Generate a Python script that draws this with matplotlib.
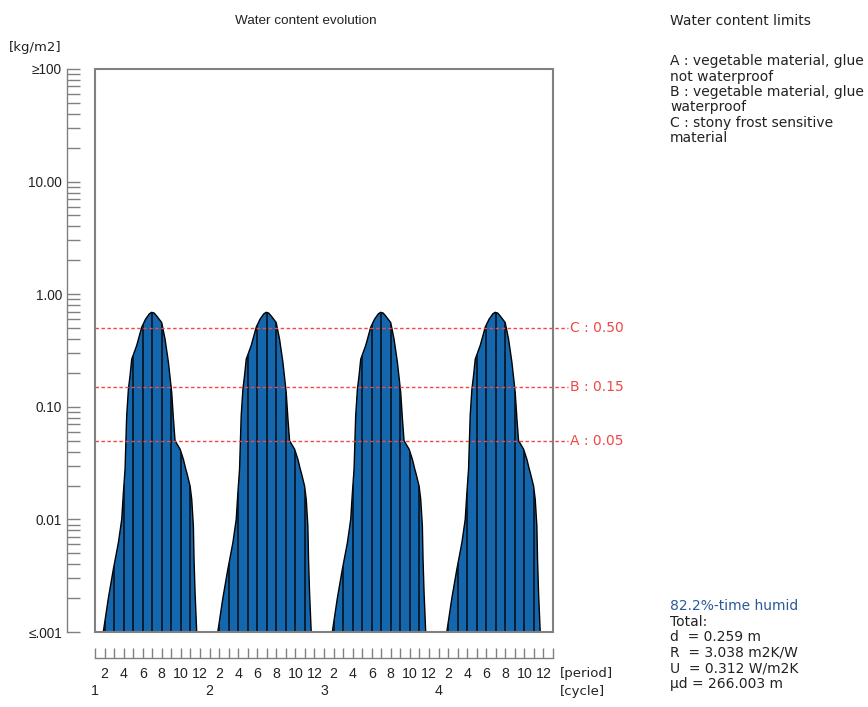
import numpy as np
import matplotlib
matplotlib.use("Agg")
import matplotlib.pyplot as plt
from matplotlib.patches import Polygon, Rectangle
from matplotlib.ticker import LogLocator, NullFormatter, FixedLocator

plt.rcParams['font.family'] = ['Liberation Sans', 'DejaVu Sans']
plt.rcParams['font.size'] = 9

n_cycles = 4
periods_per_cycle = 12

# Water content over one yearly cycle: position (in periods from cycle start) and value [kg/m2]
cycle_pos = [0.87, 1.40, 1.92, 2.45, 2.80, 2.97, 3.15, 3.32, 3.50, 3.67, 3.85, 4.37,
             4.90, 5.30, 5.70, 5.94, 6.20, 6.47, 6.99, 7.34, 7.69, 8.04, 8.22, 8.39,
             8.92, 9.27, 9.51, 9.62, 9.97, 10.14, 10.31, 10.38, 10.49, 10.66]
cycle_wc = [0.001, 0.0020, 0.0036, 0.0062, 0.010, 0.017, 0.028, 0.083, 0.143, 0.188, 0.265, 0.35,
            0.51, 0.60, 0.67, 0.69, 0.68, 0.64, 0.56, 0.40, 0.25, 0.134, 0.078, 0.050,
            0.042, 0.034, 0.028, 0.026, 0.0197, 0.015, 0.0087, 0.0044, 0.0022, 0.001]

limit_names = ["A", "B", "C"]
limit_values = [0.05, 0.15, 0.50]

ytick_values = [0.001, 0.01, 0.1, 1, 10, 100]
ytick_labels = ["≤.001", "0.01", "0.10", "1.00", "10.00", "≥100"]

period_numbers = [2, 4, 6, 8, 10, 12]
cycle_labels = ["1", "2", "3", "4"]

limits_text = ["A : vegetable material, glue", "not waterproof",
               "B : vegetable material, glue", "waterproof",
               "C : stony frost sensitive", "material"]
summary_text = ["Total:", "d  = 0.259 m", "R  = 3.038 m2K/W",
                "U  = 0.312 W/m2K", "µd = 266.003 m"]

W, H = 868, 707
fig = plt.figure(figsize=(W / 100, H / 100), dpi=100)
L, R, B, T = 95, 553, 632, 69
ax = fig.add_axes([L / W, 1 - B / H, (R - L) / W, (B - T) / H])
ax.set_yscale('log')

blue = '#1467ad'
gray = '#808080'
txt = '#222222'
red = '#f04848'
wide = ['DejaVu Sans']
side_fs = 10

for c in range(n_cycles):
    off = c * periods_per_cycle
    verts = [(off + p, v) for p, v in zip(cycle_pos, cycle_wc)]
    poly = Polygon(verts, closed=True, facecolor=blue, edgecolor='black', lw=1.0, zorder=2)
    ax.add_patch(poly)
    seps = ax.vlines(np.arange(off, off + periods_per_cycle + 1), 0.001, 100,
                     colors='#06121f', lw=1.2, zorder=3)
    seps.set_clip_path(poly)

ytrans = ax.get_yaxis_transform()
for name, v in zip(limit_names, limit_values):
    ax.plot([0, 1.032], [v, v], transform=ytrans, color=red, lw=1,
            ls=(0, (2.5, 1.8)), clip_on=False, zorder=4)
    ax.text(1.037, v, f"{name} : {v:.2f}", transform=ytrans, color=red,
            va='center', ha='left', fontsize=10, family=wide)

ax.set_xlim(0, n_cycles * periods_per_cycle)
ax.set_ylim(0.001, 100)

# frame around the plotting area, axis lines offset outward
for s in ax.spines.values():
    s.set_visible(False)
for side, off in (('left', 20), ('bottom', 18.7)):
    ax.spines[side].set_visible(True)
    ax.spines[side].set_position(('outward', off))
    ax.spines[side].set_color(gray)
    ax.spines[side].set_linewidth(1)
ax.add_patch(Rectangle((0, 0), 1, 1, transform=ax.transAxes, fill=False,
                       ec=gray, lw=1.5, zorder=5, clip_on=False))

ax.yaxis.set_major_locator(FixedLocator(ytick_values))
ax.set_yticklabels(ytick_labels)
ax.yaxis.set_minor_locator(LogLocator(base=10, subs=np.arange(2, 10)))
ax.yaxis.set_minor_formatter(NullFormatter())
ax.tick_params(axis='y', which='both', direction='in', length=9.0, width=1,
               color=gray, pad=3.8, labelcolor=txt, labelsize=9.8)

label_pos = [c * periods_per_cycle + p - 1 for c in range(n_cycles) for p in period_numbers]
ax.set_xticks(label_pos, labels=[str(p) for p in period_numbers] * n_cycles)
ax.xaxis.set_minor_locator(FixedLocator(np.arange(0, n_cycles * periods_per_cycle + 1)))
ax.tick_params(axis='x', which='both', direction='in', length=7.2, width=1,
               color=gray, pad=6.5, labelcolor=txt, labelsize=10.2)

xtrans = ax.get_xaxis_transform()
for c, lab in enumerate(cycle_labels):
    ax.text(c * periods_per_cycle, -(691 - B) / (B - T), lab, transform=xtrans,
            ha='center', va='center', color=txt, fontsize=10.2)
ax.text((560 - L) / (R - L), -(673 - B) / (B - T), "[period]", transform=ax.transAxes,
        ha='left', va='center', color=txt, fontsize=9.5, family=wide)
ax.text((560 - L) / (R - L), -(691 - B) / (B - T), "[cycle]", transform=ax.transAxes,
        ha='left', va='center', color=txt, fontsize=9.5, family=wide)

fig.text(306 / W, 1 - 21 / H, "Water content evolution", ha='center', va='center',
         color=txt, fontsize=9.7)
fig.text(62 / W, 1 - 47 / H, "[kg/m2]", ha='right', va='center', color=txt,
         fontsize=9.5, family=wide)

fig.text(670 / W, 1 - 21 / H, "Water content limits", ha='left', va='center',
         color=txt, fontsize=side_fs, family=wide)
for i, line in enumerate(limits_text):
    fig.text(670 / W, 1 - (61 + i * 15.5) / H, line, ha='left', va='center',
             color=txt, fontsize=side_fs, family=wide)

fig.text(670 / W, 1 - 606 / H, "82.2%-time humid", ha='left', va='center',
         color='#2a5a9a', fontsize=side_fs, family=wide)
for i, line in enumerate(summary_text):
    fig.text(670 / W, 1 - (621.5 + i * 15.6) / H, line, ha='left', va='center',
             color=txt, fontsize=side_fs, family=wide)

fig.savefig("out.png", dpi=100)
